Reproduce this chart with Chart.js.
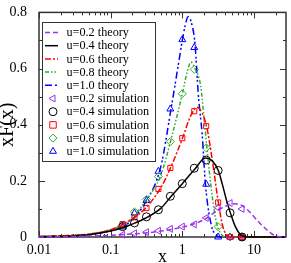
<!DOCTYPE html>
<html lang="en">
<head>
<meta charset="UTF-8">
<title>xF(x) vs x</title>
<script src="https://cdn.jsdelivr.net/npm/chart.js"></script>
<style>
  html, body { margin: 0; padding: 0; background: #fff; }
  canvas { display: block; }
</style>
</head>
<body>
<canvas id="chart" width="291" height="263"></canvas>
<script>
// tick labels
const xTicks = [0.01, 0.1, 1, 10];
const xTickLabels = ['0.01', '0.1', '1', '10'];
const yTicks = [0, 0.2, 0.4, 0.6, 0.8];
const yTickLabels = ['0', '0.2', '0.4', '0.6', '0.8'];

// theory curves
const theoryX02 = [0.01, 0.03, 0.1, 0.2, 0.3, 0.5, 0.7, 1, 1.5, 2, 3, 4, 5, 6, 7, 8.5, 10, 12, 14.5, 17, 20, 24, 28];
const theoryY02 = [0, 0.002, 0.006, 0.011, 0.014, 0.021, 0.027, 0.035, 0.048, 0.062, 0.092, 0.11, 0.118, 0.117, 0.11, 0.092, 0.072, 0.05, 0.03, 0.015, 0.004, 0, 0];

const theoryX04 = [0.01, 0.03, 0.05, 0.1, 0.15, 0.2, 0.3, 0.5, 0.7, 1, 1.5, 2.1, 2.6, 3.2, 3.6, 4.2, 4.7, 5.5, 6.5, 8, 10, 28];
const theoryY04 = [0.001, 0.004, 0.008, 0.021, 0.034, 0.046, 0.066, 0.102, 0.145, 0.19, 0.242, 0.281, 0.272, 0.235, 0.19, 0.125, 0.085, 0.037, 0.008, 0, 0, 0];

const theoryX06 = [0.01, 0.03, 0.05, 0.1, 0.15, 0.2, 0.3, 0.5, 0.7, 1, 1.3, 1.6, 1.9, 2.2, 2.6, 3.2, 3.7, 4.3, 5, 28];
const theoryY06 = [0.002, 0.006, 0.01, 0.026, 0.045, 0.064, 0.1, 0.175, 0.252, 0.35, 0.43, 0.462, 0.44, 0.39, 0.28, 0.12, 0.035, 0.003, 0, 0];

const theoryX08 = [0.01, 0.03, 0.05, 0.1, 0.15, 0.2, 0.3, 0.5, 0.7, 1, 1.15, 1.32, 1.5, 1.8, 2.0, 2.2, 2.6, 3.0, 3.5, 4, 28];
const theoryY08 = [0.002, 0.006, 0.011, 0.026, 0.045, 0.068, 0.125, 0.22, 0.35, 0.51, 0.58, 0.623, 0.6, 0.54, 0.43, 0.32, 0.15, 0.05, 0.01, 0, 0];

const theoryX10 = [0.01, 0.03, 0.05, 0.1, 0.15, 0.2, 0.3, 0.5, 0.7, 0.85, 1, 1.1, 1.21, 1.35, 1.5, 1.67, 1.9, 2.1, 2.5, 3, 3.5, 28];
const theoryY10 = [0.001, 0.005, 0.009, 0.022, 0.037, 0.062, 0.12, 0.25, 0.46, 0.59, 0.7, 0.755, 0.785, 0.76, 0.69, 0.51, 0.36, 0.19, 0.05, 0.005, 0, 0];

// simulation points
const simX = [0.147, 0.215, 0.316, 0.464, 0.681, 1, 1.468, 2.154, 3.162, 4.642, 6.81];
const sim02 = [0.008, 0.013, 0.017, 0.022, 0.029, 0.037, 0.045, 0.068, 0.104, 0.121, 0.100];
const sim04 = [0.037, 0.05, 0.072, 0.097, 0.145, 0.19, 0.245, 0.274, 0.237, 0.086, 0];
const sim06 = [0.046, 0.07, 0.103, 0.171, 0.246, 0.352, 0.448, 0.395, 0.123, 0, 0];
const sim08 = [0.042, 0.09, 0.134, 0.215, 0.34, 0.51, 0.597, 0.318, 0.037, 0, 0];
const sim10 = [0.036, 0.085, 0.13, 0.234, 0.456, 0.703, 0.675, 0.188, 0, 0, 0];

const uLabels = ['0.2', '0.4', '0.6', '0.8', '1.0'];
const colors = ['#9933ee', '#000000', '#ff0000', '#33aa33', '#0000ff'];
const dashes = [[5, 3], [], [6, 2, 2, 2], [4, 2, 1.5, 2, 1.5, 2], [7, 3, 2, 2, 2, 3]];
const markers = ['triangle', 'circle', 'rect', 'rectRot', 'triangle'];
const markerRot = [-90, 0, 0, 0, 0];

const serif = "'Liberation Serif', 'Times New Roman', serif";

const pts = (xs, ys) => xs.map((v, i) => ({x: v, y: ys[i]}));

const theoryX = [theoryX02, theoryX04, theoryX06, theoryX08, theoryX10];
const theoryY = [theoryY02, theoryY04, theoryY06, theoryY08, theoryY10];
const simY = [sim02, sim04, sim06, sim08, sim10];

const datasets = [];
uLabels.forEach((u, i) => {
    datasets.push({
        label: 'u=' + u + ' theory',
        data: pts(theoryX[i], theoryY[i]),
        showLine: true,
        borderColor: colors[i],
        borderWidth: 1.5,
        borderDash: dashes[i],
        cubicInterpolationMode: 'monotone',
        pointRadius: 0,
        clip: false
    });
});
uLabels.forEach((u, i) => {
    datasets.push({
        label: 'u=' + u + ' simulation',
        data: pts(simX, simY[i]),
        showLine: false,
        borderColor: colors[i],
        backgroundColor: 'rgba(0,0,0,0)',
        pointStyle: markers[i],
        rotation: markerRot[i],
        pointRadius: i === 2 ? 3.6 : 4,
        pointBorderWidth: 1,
        clip: false
    });
});

function drawMarker(ctx, style, rot, x, y, r) {
    ctx.beginPath();
    if (style === 'circle') {
        ctx.arc(x, y, r, 0, Math.PI * 2);
    } else if (style === 'rect') {
        ctx.rect(x - r * 0.9, y - r * 0.9, r * 1.8, r * 1.8);
    } else if (style === 'rectRot') {
        ctx.moveTo(x, y - r); ctx.lineTo(x + r, y); ctx.lineTo(x, y + r); ctx.lineTo(x - r, y); ctx.closePath();
    } else {
        const a0 = (rot - 90) * Math.PI / 180;
        for (let k = 0; k < 3; k++) {
            const a = a0 + k * 2 * Math.PI / 3;
            const px = x + r * Math.cos(a), py = y + r * Math.sin(a);
            if (k === 0) ctx.moveTo(px, py); else ctx.lineTo(px, py);
        }
        ctx.closePath();
    }
    ctx.stroke();
}

const frameAndTicks = {
    id: 'frameAndTicks',
    beforeDatasetsDraw(chart) {
        const {ctx, chartArea: a, scales: {x, y}} = chart;
        ctx.save();
        ctx.strokeStyle = '#333';
        ctx.lineWidth = 1;
        ctx.beginPath();
        for (let d = -2; d <= 1; d++) {
            for (let m = 1; m <= 9; m++) {
                const v = m * Math.pow(10, d);
                if (v > x.max) break;
                const px = Math.round(x.getPixelForValue(v)) + 0.5;
                const len = m === 1 ? 6 : 3;
                ctx.moveTo(px, a.bottom); ctx.lineTo(px, a.bottom - len);
                ctx.moveTo(px, a.top); ctx.lineTo(px, a.top + len);
            }
        }
        for (let k = 0; k <= 8; k++) {
            const py = Math.round(y.getPixelForValue(k / 10)) + 0.5;
            const len = k % 2 === 0 ? 6 : 3;
            ctx.moveTo(a.left, py); ctx.lineTo(a.left + len, py);
            ctx.moveTo(a.right, py); ctx.lineTo(a.right - len, py);
        }
        ctx.stroke();
        ctx.lineWidth = 1.5;
        ctx.strokeRect(a.left, a.top, a.right - a.left, a.bottom - a.top);
        ctx.restore();
    }
};

const boxLegend = {
    id: 'boxLegend',
    afterDraw(chart) {
        const ctx = chart.ctx;
        const left = 42, top = 22, right = 155, bottom = 161;
        ctx.save();
        ctx.fillStyle = '#fff';
        ctx.fillRect(left, top, right - left, bottom - top);
        ctx.strokeStyle = '#333';
        ctx.lineWidth = 1;
        ctx.strokeRect(left + 0.5, top + 0.5, right - left, bottom - top);
        ctx.font = '12.2px ' + serif;
        ctx.textBaseline = 'middle';
        chart.data.datasets.forEach((ds, i) => {
            const cy = 32.5 + i * 13.2;
            const k = i % 5;
            ctx.strokeStyle = colors[k];
            if (i < 5) {
                ctx.lineWidth = 1.5;
                ctx.setLineDash(dashes[k]);
                ctx.beginPath();
                ctx.moveTo(45, cy); ctx.lineTo(58, cy);
                ctx.stroke();
                ctx.setLineDash([]);
            } else {
                ctx.lineWidth = 1;
                drawMarker(ctx, markers[k], markerRot[k], 53, cy, k === 2 ? 3.6 : 4);
            }
            ctx.fillStyle = '#000';
            ctx.fillText(ds.label, 66.5, cy + 0.5);
        });
        ctx.restore();
    }
};

new Chart(document.getElementById('chart'), {
    type: 'scatter',
    data: { datasets: datasets },
    options: {
        responsive: false,
        animation: false,
        devicePixelRatio: 1,
        layout: { padding: { top: 5, right: 3, left: 0, bottom: 0 } },
        plugins: {
            legend: { display: false },
            tooltip: { enabled: false }
        },
        scales: {
            x: {
                type: 'logarithmic',
                min: 0.01,
                max: 28,
                grid: { display: false },
                border: { display: false },
                afterBuildTicks: s => { s.ticks = xTicks.map(v => ({value: v})); },
                afterFit: s => { s.height = 26; },
                ticks: {
                    autoSkip: false,
                    maxRotation: 0,
                    padding: -3,
                    color: '#000',
                    font: { family: serif, size: 14 },
                    callback: v => xTickLabels[xTicks.indexOf(v)] ?? ''
                },
                title: {
                    display: true,
                    text: 'x',
                    color: '#000',
                    padding: 0,
                    font: { family: serif, size: 18, lineHeight: 0.67 }
                }
            },
            y: {
                min: 0,
                max: 0.8,
                grid: { display: false },
                border: { display: false },
                afterBuildTicks: s => { s.ticks = yTicks.map(v => ({value: v})); },
                afterFit: s => { s.width = 39; },
                ticks: {
                    padding: 4,
                    color: '#000',
                    font: { family: serif, size: 14 },
                    callback: (v, i) => yTickLabels[i]
                },
                title: {
                    display: true,
                    text: 'xF(x)',
                    color: '#000',
                    padding: 0,
                    font: { family: serif, size: 20, lineHeight: 0.8 }
                }
            }
        }
    },
    plugins: [frameAndTicks, boxLegend]
});
</script>
</body>
</html>
